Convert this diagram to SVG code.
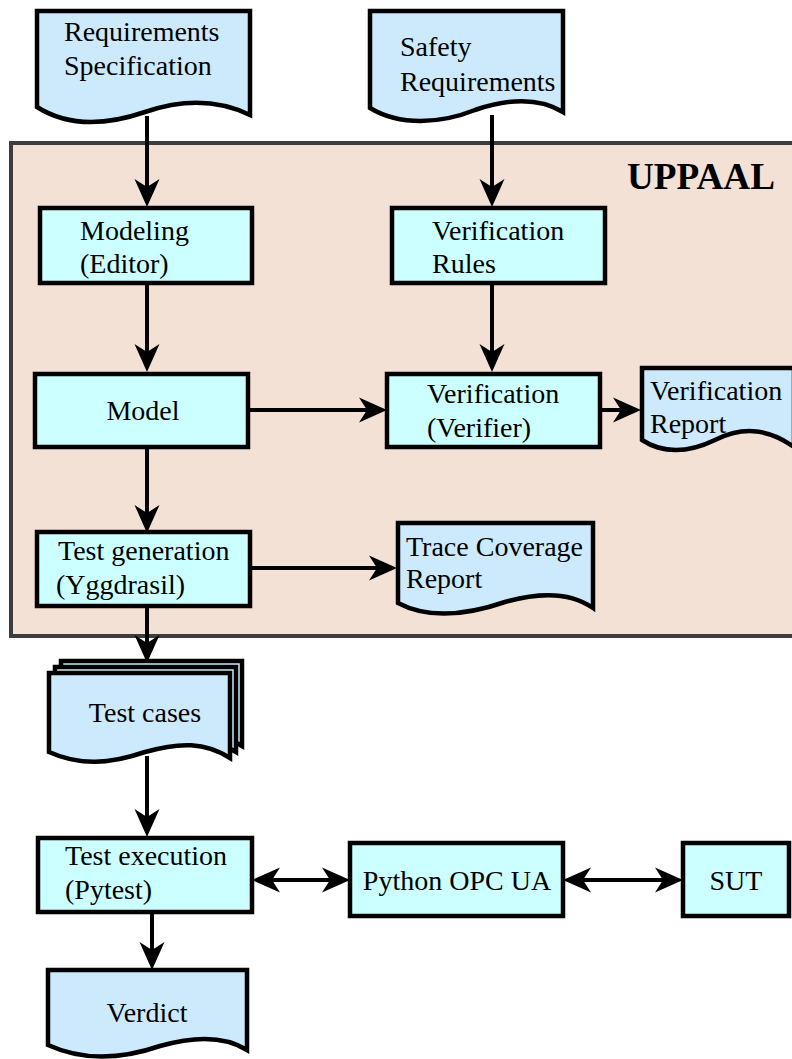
<svg xmlns="http://www.w3.org/2000/svg" width="792" height="1059" viewBox="0 0 792 1059">
<style>
.doc{fill:#cdeafd;stroke:#000;stroke-width:4.5;stroke-linejoin:miter}
.box{fill:#ccffff;stroke:#000;stroke-width:4.5}
.t{font-family:"Liberation Serif","Times New Roman",serif;font-size:28px;fill:#000}
.c{text-anchor:middle}
.ln{fill:none;stroke:#000;stroke-width:4}
</style>
<defs>
<marker id="ah" viewBox="-10 -14 32 28" refX="0" refY="0" markerWidth="32" markerHeight="28" markerUnits="userSpaceOnUse" orient="auto-start-reverse">
<path d="M20,0 L-8,-12.5 L0,0 L-8,12.5 Z" fill="#000"/>
</marker>
</defs>
<rect id="uppaal" x="11" y="143" width="795" height="493" fill="#f3e1d6" stroke="#3d3d3d" stroke-width="4"/>
<text class="t" x="627" y="189" style="font-weight:bold;font-size:37px" textLength="148" lengthAdjust="spacingAndGlyphs">UPPAAL</text>
<g id="connectors">
<line class="ln" x1="147" y1="116" x2="147" y2="187" marker-end="url(#ah)"/>
<line class="ln" x1="492" y1="115" x2="492" y2="187" marker-end="url(#ah)"/>
<line class="ln" x1="147" y1="283" x2="147" y2="352" marker-end="url(#ah)"/>
<line class="ln" x1="492" y1="283" x2="492" y2="352" marker-end="url(#ah)"/>
<line class="ln" x1="250" y1="410" x2="367" y2="410" marker-end="url(#ah)"/>
<line class="ln" x1="600" y1="410" x2="621" y2="410" marker-end="url(#ah)"/>
<line class="ln" x1="147" y1="447" x2="147" y2="513" marker-end="url(#ah)"/>
<line class="ln" x1="250" y1="568" x2="377" y2="568" marker-end="url(#ah)"/>
<line class="ln" x1="147" y1="606" x2="147" y2="643" marker-end="url(#ah)"/>
<line class="ln" x1="147" y1="756" x2="147" y2="817" marker-end="url(#ah)"/>
<line class="ln" x1="272" y1="880" x2="330" y2="880" marker-start="url(#ah)" marker-end="url(#ah)"/>
<line class="ln" x1="583" y1="880" x2="663" y2="880" marker-start="url(#ah)" marker-end="url(#ah)"/>
<line class="ln" x1="152" y1="912" x2="152" y2="950" marker-end="url(#ah)"/>
</g>
<g id="req-spec">
<path class="doc" d="M37,11 H250 V115 C215,98 180,100 145,112 C110,124 70,128 37,107 Z"/>
<text class="t" x="64" y="41">Requirements</text>
<text class="t" x="64" y="75">Specification</text>
</g>
<g id="safety-req">
<path class="doc" d="M370,11 H563 V112 C540,98 510,98 475,110 C440,124 400,126 370,108 Z"/>
<text class="t" x="400" y="56">Safety</text>
<text class="t" x="400" y="91">Requirements</text>
</g>
<g id="modeling">
<rect class="box" x="40" y="208" width="212" height="75"/>
<text class="t" x="80" y="240">Modeling</text>
<text class="t" x="80" y="273">(Editor)</text>
</g>
<g id="verification-rules">
<rect class="box" x="392" y="208" width="213" height="75"/>
<text class="t" x="432" y="240">Verification</text>
<text class="t" x="432" y="273">Rules</text>
</g>
<g id="model">
<rect class="box" x="35" y="374" width="213" height="73"/>
<text class="t c" x="143" y="420">Model</text>
</g>
<g id="verification">
<rect class="box" x="387" y="374" width="213" height="73"/>
<text class="t" x="427" y="403">Verification</text>
<text class="t" x="427" y="437">(Verifier)</text>
</g>
<g id="verification-report">
<path class="doc" d="M642,368 H794 V447 C770,430 745,425 715,440 C690,452 665,455 642,440 Z"/>
<text class="t" x="650" y="400">Verification</text>
<text class="t" x="650" y="433">Report</text>
</g>
<g id="test-generation">
<rect class="box" x="37" y="532" width="213" height="74"/>
<text class="t" x="58" y="560">Test generation</text>
<text class="t" x="56" y="594">(Yggdrasil)</text>
</g>
<g id="trace-coverage">
<path class="doc" d="M398,523 H593 V608 C570,592 540,592 505,602 C470,614 430,620 398,603 Z"/>
<text class="t" x="406" y="556">Trace Coverage</text>
<text class="t" x="406" y="588">Report</text>
</g>
<g id="test-cases">
<path class="doc" d="M61,661 H242 V746 C217,730 192,730 157,740 C122,752 92,754 61,740 Z"/>
<path class="doc" d="M55,667 H236 V752 C211,736 186,736 151,746 C116,758 86,760 55,746 Z"/>
<path class="doc" d="M49,673 H230 V758 C205,742 180,742 145,752 C110,764 80,766 49,752 Z"/>
<text class="t c" x="145" y="722">Test cases</text>
</g>
<g id="test-execution">
<rect class="box" x="38" y="838" width="214" height="74"/>
<text class="t" x="65" y="865">Test execution</text>
<text class="t" x="65" y="899">(Pytest)</text>
</g>
<g id="python-opcua">
<rect class="box" x="350" y="843" width="213" height="73"/>
<text class="t c" x="457" y="890">Python OPC UA</text>
</g>
<g id="sut">
<rect class="box" x="683" y="843" width="106" height="73"/>
<text class="t c" x="736" y="890">SUT</text>
</g>
<g id="verdict">
<path class="doc" d="M48,970 H247 V1050 C225,1036 195,1036 160,1046 C125,1058 85,1062 48,1045 Z"/>
<text class="t c" x="147" y="1022">Verdict</text>
</g>
</svg>
